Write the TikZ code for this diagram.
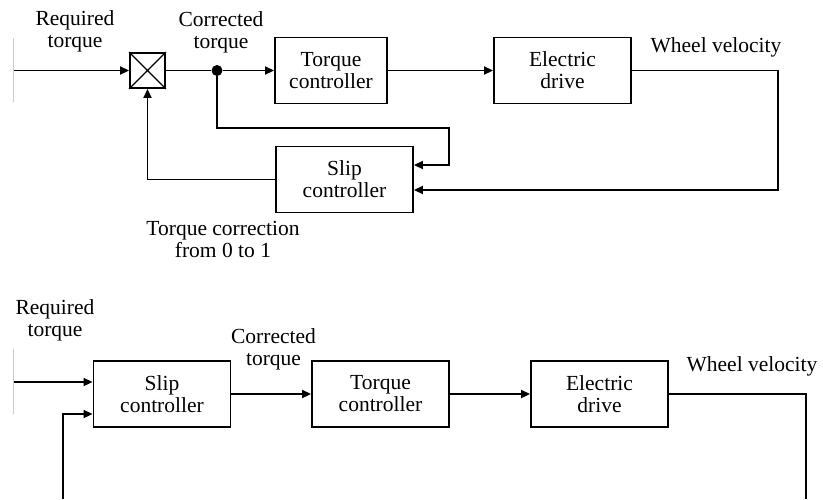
\documentclass[tikz,border=0pt]{standalone}
\usepackage{fontspec}
\setmainfont{Liberation Serif}
\usetikzlibrary{arrows.meta}
\begin{document}
\begin{tikzpicture}[x={(1pt,0)},y={(0,-1pt)},
  every node/.style={font=\fontsize{21.5}{22}\selectfont, align=center, inner sep=0pt},
  blk/.style={draw, line width=1.9pt, minimum width=137, minimum height=66},
  conn/.style={line width=1.9pt},
  arr/.style={conn, -{Triangle[length=9pt,width=8pt]}},
  lbl/.style={},
  edge/.style={gray!40, line width=0.8pt}]
\useasboundingbox (0,0) rectangle (823,499);

% ---------------- top diagram ----------------
\coordinate (in1) at (13,70.5);
\node[draw, line width=1.9pt, minimum width=35, minimum height=35] (mult) at (147.5,70.5) {};
\draw[line width=1.3pt] (mult.north west) -- (mult.south east) (mult.north east) -- (mult.south west);
\node[circle, fill, minimum size=11] (dot) at (217,70.5) {};
\node[blk, minimum width=112] (tc1) at (331,70.5) {Torque\\controller};
\node[blk] (ed1) at (562.5,70.5) {Electric\\drive};
\node[blk] (sc1) at (344.5,179.5) {Slip\\controller};
\coordinate (c1) at (778,190);
\coordinate (c2) at (449,128);

\draw[arr] (in1) -- (mult.west);
\draw[conn] (mult.east) -- (dot);
\draw[arr] (dot) -- (tc1.west);
\draw[arr] (tc1.east) -- (ed1.west);
\draw[arr] (ed1.east) -| (c1) -- ([yshift=-10.5pt]sc1.east);
\draw[arr] (dot) |- (c2) |- ([yshift=14.5pt]sc1.east);
\draw[arr] (sc1.west) -| (mult.south);

\node[lbl] (rt1) at (75,31) {Required\\torque};
\node[lbl] (ct1) at (221,32) {Corrected\\torque};
\node[lbl] (wv1) at (716,47) {Wheel velocity};
\node[lbl] (tcor) at (223,239) {Torque correction\\from 0 to 1};

% ---------------- bottom diagram ----------------
\node[blk] (sc2) at (162,394) {Slip\\controller};
\node[blk] (tc2) at (380.5,394) {Torque\\controller};
\node[blk] (ed2) at (599.5,394) {Electric\\drive};
\coordinate (in2) at (13,382);
\coordinate (fb2) at (63,499);
\coordinate (c3) at (806,394);
\coordinate (c4) at (806,499);

\draw[arr] (in2) -- ([yshift=12pt]sc2.west);
\draw[arr] (fb2) |- ([yshift=-20pt]sc2.west);
\draw[arr] (sc2.east) -- (tc2.west);
\draw[arr] (tc2.east) -- (ed2.west);
\draw[conn] (ed2.east) -- (c3) -- (c4);

\node[lbl] (rt2) at (55,320) {Required\\torque};
\node[lbl] (ct2) at (273.5,349) {Corrected\\torque};
\node[lbl] (wv2) at (752,366) {Wheel velocity};

% faint crop edges
\draw[edge] (13,38) -- (13,102);
\draw[edge] (13,349) -- (13,414);
\end{tikzpicture}
\end{document}
